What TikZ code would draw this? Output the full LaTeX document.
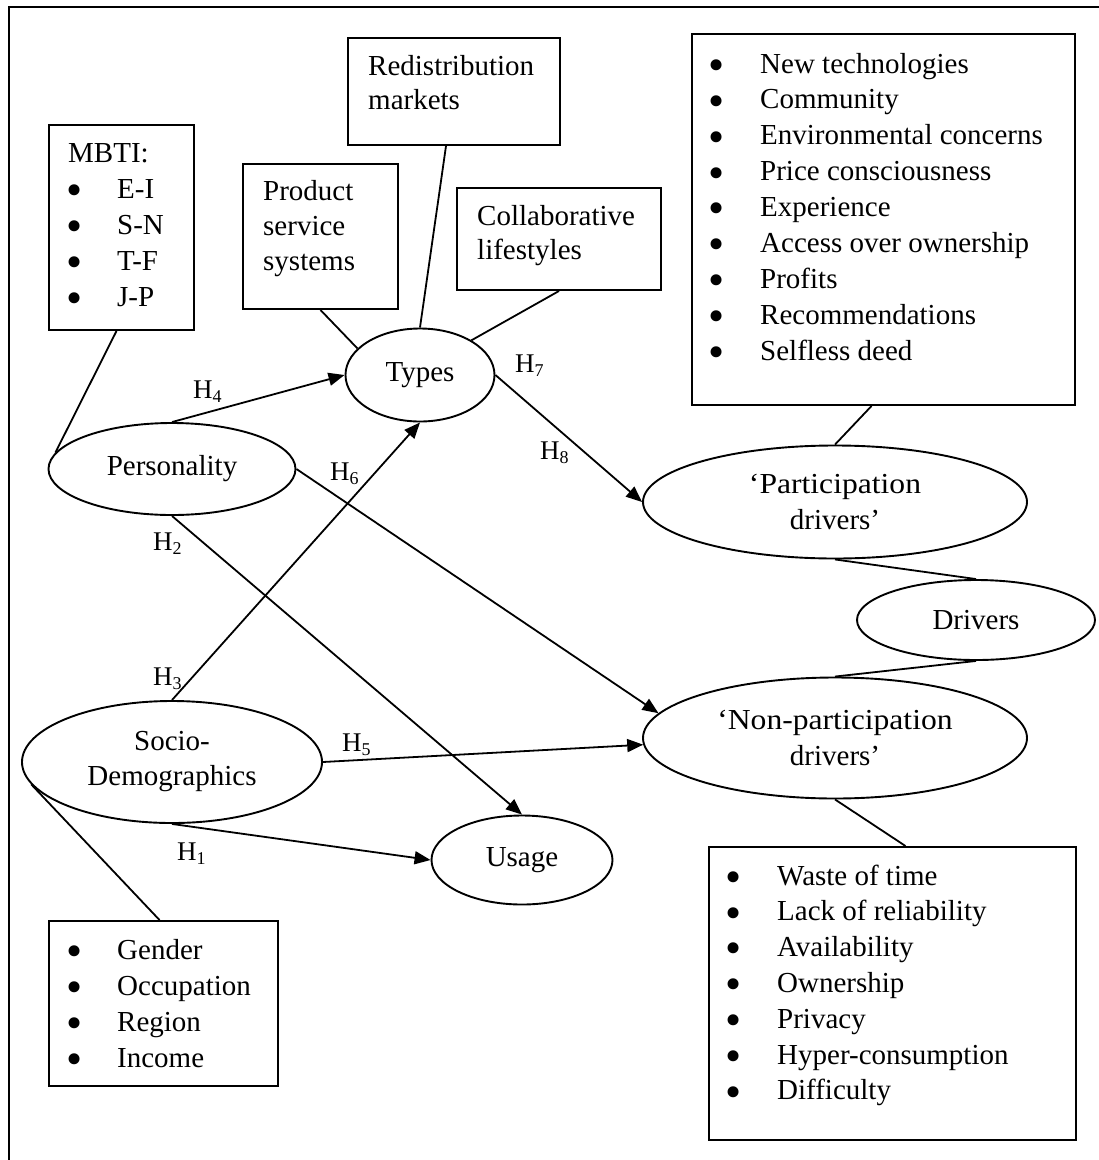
\documentclass[tikz,border=0pt]{standalone}
\usepackage{fontspec}
\setmainfont{Liberation Serif}
\newfontfamily\widefont[FakeStretch=1.09]{Liberation Serif}
\usetikzlibrary{shapes.geometric,arrows.meta,calc}

% hypothesis label: H with a lowered small index
\newcommand\hyplab[1]{H\raisebox{-4.5pt}{\fontsize{18}{18}\selectfont #1}}

\begin{document}
\begin{tikzpicture}[x=1pt,y=-1pt,
  font=\fontsize{29}{36}\selectfont,
  box/.style={draw, line width=2pt, rectangle, inner sep=0pt, anchor=north west},
  oval/.style={draw, ellipse, line width=1.9pt, inner sep=0pt, align=center},
  link/.style={line width=1.8pt},
  arr/.style={line width=1.8pt, -{Triangle[length=16pt,width=13pt]}},
  txt/.style={anchor=base west, inner sep=0pt},
  bul/.style={anchor=center, inner sep=0pt, font=\fontsize{46}{46}\selectfont},
  hyp/.style={anchor=base west, inner sep=0pt, font=\fontsize{27}{27}\selectfont},
]
\clip (0,0) rectangle (1099,1160);

% outer frame
\draw[line width=2pt] (9,1180) -- (9,7) -- (1120,7);

% ---------- rectangular boxes ----------
\node[box, minimum width=145pt, minimum height=205pt] (mbti)   at (48,124)  {};
\node[box, minimum width=155pt, minimum height=145pt] (pss)    at (242,163) {};
\node[box, minimum width=212pt, minimum height=107pt] (redis)  at (347,37)  {};
\node[box, minimum width=204pt, minimum height=102pt] (collab) at (456,187) {};
\node[box, minimum width=383pt, minimum height=371pt] (pdbox)  at (691,33)  {};
\node[box, minimum width=229pt, minimum height=165pt] (sdbox)  at (48,920)  {};
\node[box, minimum width=367pt, minimum height=293pt] (npbox)  at (708,846) {};

% MBTI list
\node[txt] (mbtiT) at (68,162) {MBTI:};
\foreach \t [count=\i] in {E-I,S-N,T-F,J-P} {
  \node[bul] (mbtiB\i) at (75,162+36*\i-3) {\textbullet};
  \node[txt] (mbtiI\i) at (117,162+36*\i) {\t};
}

% types of collaborative consumption
\node[txt] (pss1) at (263,200) {Product};
\node[txt] (pss2) at (263,235) {service};
\node[txt] (pss3) at (263,270) {systems};
\node[txt] (red1) at (368,75)  {Redistribution};
\node[txt] (red2) at (368,109) {markets};
\node[txt] (col1) at (477,225) {Collaborative};
\node[txt] (col2) at (477,259) {lifestyles};

% participation drivers list
\foreach \t [count=\i from 0] in {New technologies,Community,Environmental concerns,
    Price consciousness,Experience,Access over ownership,Profits,Recommendations,Selfless deed} {
  \node[bul] (pdB\i) at (717,73+35.9*\i-3) {\textbullet};
  \node[txt] (pdI\i) at (760,73+35.9*\i) {\t};
}

% socio-demographic list
\foreach \t [count=\i from 0] in {Gender,Occupation,Region,Income} {
  \node[bul] (sdB\i) at (75,959+36*\i-3) {\textbullet};
  \node[txt] (sdI\i) at (117,959+36*\i) {\t};
}

% non-participation drivers list
\foreach \t [count=\i from 0] in {Waste of time,Lack of reliability,Availability,
    Ownership,Privacy,Hyper-consumption,Difficulty} {
  \node[bul] (npB\i) at (734,885+35.8*\i-3) {\textbullet};
  \node[txt] (npI\i) at (777,885+35.8*\i) {\t};
}

% ---------- constructs ----------
\node[oval, minimum width=149pt, minimum height=93pt]  (types)   at (420,375) {Types};
\node[oval, minimum width=247pt, minimum height=92pt]  (pers)    at (172,469) {Personality};
\node[oval, minimum width=300pt, minimum height=122pt] (socio)   at (172,762) {Socio-\\[-1pt]Demographics};
\node[oval, minimum width=181pt, minimum height=89pt]  (usage)   at (522,860) {Usage};
\node[oval, minimum width=384pt, minimum height=113pt] (part)    at (835,502) {\widefont ‘Participation\\ drivers’};
\node[oval, minimum width=238pt, minimum height=80pt]  (drivers) at (976,620) {Drivers};
\node[oval, minimum width=384pt, minimum height=121pt] (nonpart) at (835,738) {\widefont ‘Non-participation\\ drivers’};

% ---------- plain links ----------
\draw[link] ($(mbti.south)+(-5,0)$) -- (pers.172);
\draw[link] (pss.south) -- (types.157);
\draw[link] ($(redis.south)+(-8,0)$) -- (types.north);
\draw[link] (collab.south) -- (types.34);
\draw[link] (socio.189) -- ($(sdbox.north)+(-4,0)$);
\draw[link] (part.north) -- ($(pdbox.south)+(-12,0)$);
\draw[link] (part.south) -- (drivers.north);
\draw[link] (drivers.south) -- (nonpart.north);
\draw[link] (nonpart.south) -- ($(npbox.north)+(13,0)$);

% ---------- hypothesised paths ----------
\draw[arr] (pers.north)  -- (types.west);
\draw[arr] (types.east)  -- (part.west);
\draw[arr] (pers.east)   -- (nonpart.172);
\draw[arr] (pers.south)  -- (usage.north);
\draw[arr] (socio.north) -- (types.south);
\draw[arr] (socio.east)  -- (nonpart.182);
\draw[arr] (socio.south) -- (usage.west);

% hypothesis labels
\node[hyp] (h1) at (177,860) {\hyplab{1}};
\node[hyp] (h2) at (153,550) {\hyplab{2}};
\node[hyp] (h3) at (153,685) {\hyplab{3}};
\node[hyp] (h4) at (193,398) {\hyplab{4}};
\node[hyp] (h5) at (342,751) {\hyplab{5}};
\node[hyp] (h6) at (330,480) {\hyplab{6}};
\node[hyp] (h7) at (515,372) {\hyplab{7}};
\node[hyp] (h8) at (540,459) {\hyplab{8}};
\end{tikzpicture}
\end{document}
